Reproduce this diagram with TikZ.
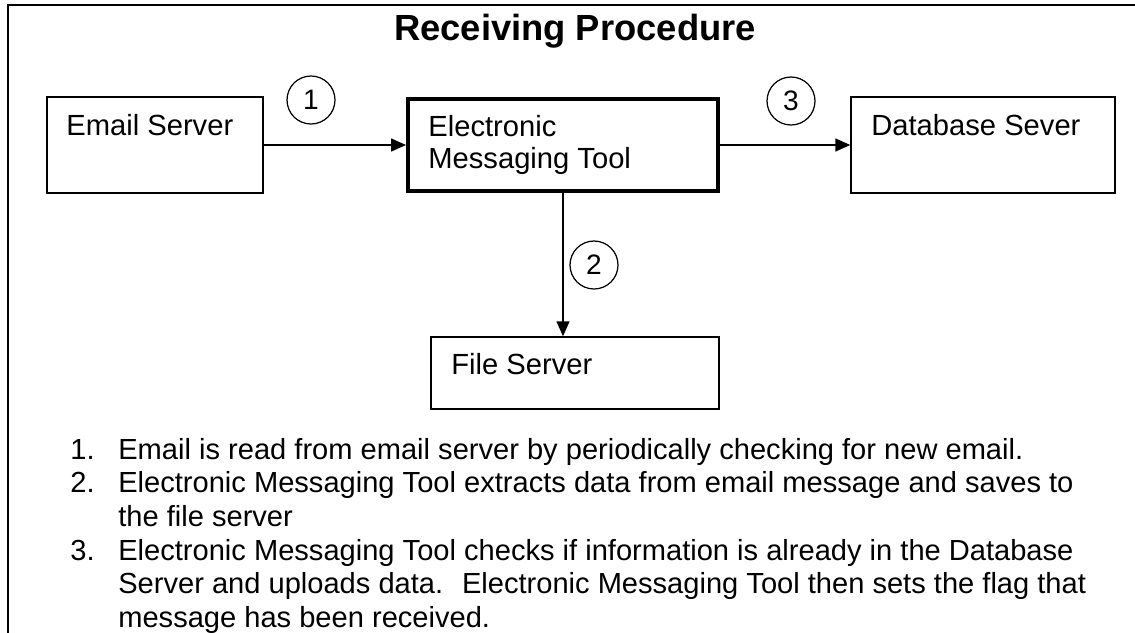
\documentclass[tikz,border=0pt]{standalone}
\usepackage{fontspec}
\setmainfont{Liberation Sans}
\usetikzlibrary{arrows.meta}
\tikzset{>={Triangle[length=3mm,width=2.6mm]}}

\begin{document}
\begin{tikzpicture}[x=0.02cm, y=-0.02cm,
    box/.style={draw, line width=0.85pt, minimum width=#1, minimum height=1.92cm, inner sep=0pt},
    boxtext/.style={inner sep=0pt, align=left, font=\fontsize{16.6pt}{18.14pt}\selectfont},
    marker/.style={draw, circle, line width=0.7pt, minimum size=0.96cm, inner sep=0pt, font=\fontsize{16pt}{18pt}\selectfont},
    link/.style={->, line width=0.85pt}
]

    \useasboundingbox (0,0) rectangle (1135,632);

    % frame, cut off on the right and at the bottom
    \draw[line width=0.85pt] (8,640) -- (8,5) -- (1140,5);

    \node[anchor=base, font=\fontsize{20.7pt}{24pt}\selectfont\bfseries] (heading) at (575,40) {Receiving Procedure};

    % boxes
    \node[box=4.32cm] (email) at (155,145) {};
    \node[box=6.2cm, minimum height=1.84cm, line width=2.28pt] (tool) at (563,145) {};
    \node[box=5.28cm] (db) at (983,145) {};
    \node[box=5.76cm, minimum height=1.44cm] (file) at (575,373) {};

    \node[boxtext, anchor=base west] (emailtxt) at (66,135) {Email Server};
    \node[boxtext, anchor=north west] (tooltxt) at (428,115) {Electronic\\Messaging Tool};
    \node[boxtext, anchor=base west] (dbtxt) at (871,135) {Database Sever};
    \node[boxtext, anchor=base west] (filetxt) at (451,374) {File Server};

    % steps
    \draw[link] (email) -- (tool);
    \draw[link] (tool) -- (db);
    \draw[link] (tool.south) -- (tool.south |- file.north);

    \node[marker] (c1) at (311,100) {1};
    \node[marker] (c2) at (594,265) {2};
    \node[marker] (c3) at (791,101) {3};

    % notes
    \node[anchor=north west, inner sep=0pt, font=\fontsize{16.55pt}{19.16pt}\selectfont] (notes) at (70,435.3) {%
    \begin{tabular}{@{}p{0.96cm}@{}l@{}}
    1. & Email is read from email server by periodically checking for new email.\\
    2. & Electronic Messaging Tool extracts data from email message and saves to\\
       & the file server\\
    3. & Electronic Messaging Tool checks if information is already in the Database\\
       & Server and uploads data.~ Electronic Messaging Tool then sets the flag that\\
       & message has been received.
    \end{tabular}};

\end{tikzpicture}
\end{document}
